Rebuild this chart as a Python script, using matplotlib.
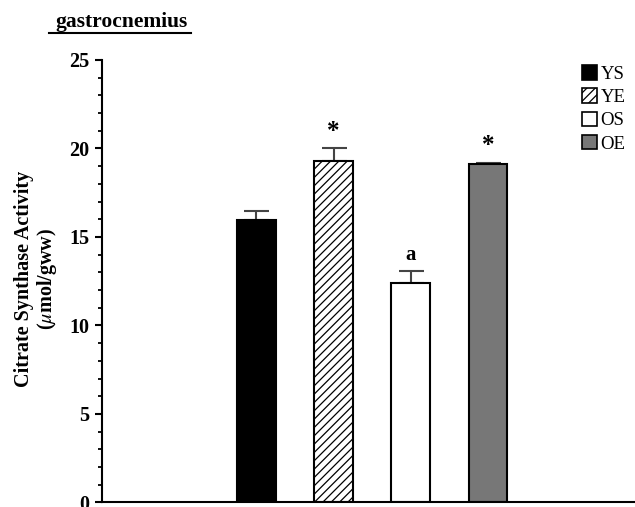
import matplotlib
matplotlib.use("Agg")
import matplotlib.pyplot as plt
from matplotlib.patches import Patch
from matplotlib.ticker import MultipleLocator

groups = ["YS", "YE", "OS", "OE"]
values = [15.95, 19.3, 12.4, 19.1]
errors = [0.5, 0.7, 0.7, 0.1]
marks = ["", "*", "a", "*"]
colors = ["black", "white", "white", "#777777"]
hatches = ["", "////", "", ""]
yticks = [0, 5, 10, 15, 20, 25]

plt.rcParams['font.family'] = ['Liberation Serif', 'DejaVu Serif']
plt.rcParams['mathtext.fontset'] = 'stix'
plt.rcParams['hatch.color'] = '#888888'
plt.rcParams['hatch.linewidth'] = 0.9

fig = plt.figure(figsize=(6.35, 5.07), dpi=100)
ax = fig.add_axes([0.160, 0.0089, 0.84, 0.873])

x = list(range(len(groups)))
for i in x:
    ax.bar(i, values[i], width=0.5, color=colors[i], edgecolor='black',
           linewidth=1.5, hatch=hatches[i], zorder=2)
    ax.errorbar(i, values[i], yerr=[[0], [errors[i]]], fmt='none',
                ecolor='#444444', elinewidth=1.5, capsize=9, capthick=1.5, zorder=1)
    if marks[i]:
        if marks[i] == "*":
            ax.text(i, values[i] + errors[i] + 0.3, marks[i], ha='center', va='bottom',
                    fontsize=18, fontweight='bold')
        else:
            ax.text(i, values[i] + errors[i] + 0.3, marks[i], ha='center', va='bottom',
                    fontsize=15, fontweight='bold')

ax.set_xlim(-2.0, 4.9)
ax.set_ylim(0, 25)
ax.set_yticks(yticks)
ax.set_yticklabels([str(t) for t in yticks], fontsize=14.5, fontweight='bold')
ax.yaxis.set_minor_locator(MultipleLocator(1))
ax.tick_params(axis='y', which='major', direction='out', length=5, width=1.5, pad=4)
ax.tick_params(axis='y', which='minor', direction='out', length=3, width=1.3)
ax.set_xticks([])
for s in ['top', 'right']:
    ax.spines[s].set_visible(False)
ax.spines['left'].set_linewidth(1.5)
ax.spines['bottom'].set_linewidth(1.5)

ax.set_ylabel("Citrate Synthase Activity\n($\\mu$mol/gww)", fontsize=14.5, fontweight='bold',
              linespacing=1.05)
ax.yaxis.set_label_coords(-0.08, 0.505)

handles = [Patch(facecolor=colors[i], edgecolor='black', hatch=hatches[i], linewidth=1.2)
           for i in x]
leg = ax.legend(handles, groups, loc='upper left', bbox_to_anchor=(0.886, 1.005),
                frameon=False, fontsize=13.5, handlelength=0.8, handleheight=0.8,
                handletextpad=0.2, labelspacing=0.3, borderaxespad=0)

fig.text(122 / 635, 1 - 22 / 507, "gastrocnemius", ha='center', va='center',
         fontsize=15.5, fontweight='bold')
fig.add_artist(plt.Line2D([49 / 635, 191 / 635], [1 - 33 / 507, 1 - 33 / 507],
                          color='black', linewidth=1.5))

fig.savefig("out.png", dpi=100)
